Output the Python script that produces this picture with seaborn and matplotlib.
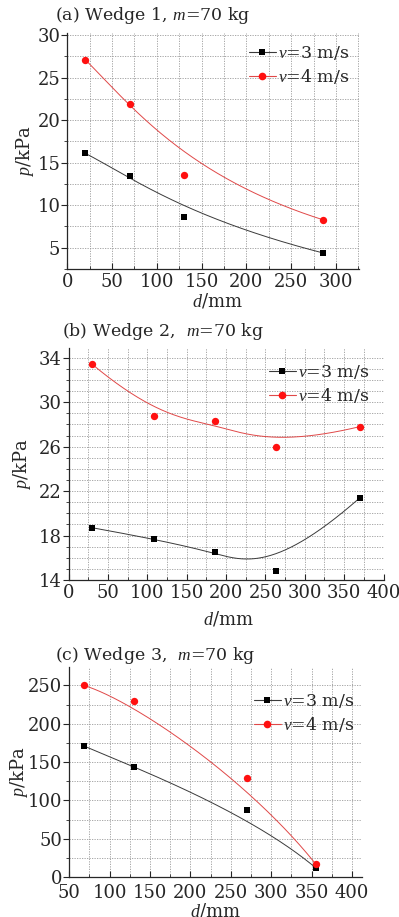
import numpy as np
import matplotlib
matplotlib.use("Agg")
import matplotlib.pyplot as plt
from matplotlib.lines import Line2D
from matplotlib.ticker import MultipleLocator, FixedLocator
import seaborn as sns

# data
d_a = [20, 70, 130, 285]
p_a_v3 = [16.1, 13.4, 8.6, 4.4]
p_a_v4 = [27.1, 21.9, 13.5, 8.3]

d_b = [30, 108, 186, 264, 370]
p_b_v3 = [18.7, 17.7, 16.5, 14.8, 21.4]
p_b_v4 = [33.4, 28.8, 28.3, 26.0, 27.8]

d_c = [68, 130, 270, 355]
p_c_v3 = [171, 143, 87, 12]
p_c_v4 = [250, 230, 129, 17]

yticks_a = [5, 10, 15, 20, 25, 30]
yticks_b = [14, 18, 22, 26, 30, 34]
yticks_c = [0, 50, 100, 150, 200, 250]

titles = ["(a) Wedge 1, $m$=70 kg", "(b) Wedge 2,  $m$=70 kg", "(c) Wedge 3,  $m$=70 kg"]
labels = ["$v$=3 m/s", "$v$=4 m/s"]

sns.set_style("ticks")
plt.rcParams["font.family"] = ["DejaVu Serif"]
plt.rcParams["mathtext.fontset"] = "custom"
plt.rcParams["mathtext.rm"] = "DejaVu Serif"
plt.rcParams["mathtext.it"] = "Liberation Serif:italic"

W, H = 399, 917
fig = plt.figure(figsize=(W / 100, H / 100), dpi=100)


def px_axes(l, t, r, b):
    return fig.add_axes([l / W, 1 - b / H, (r - l) / W, (b - t) / H])


def bspline(x, y, n=300):
    # clamped B-spline with the data points as control points (like Origin's B-spline connect)
    P = np.column_stack([x, y]).astype(float)
    m = len(P)
    k = min(3, m - 1)
    inner = np.linspace(0, 1, m - k + 1)[1:-1]
    knots = np.concatenate([np.zeros(k + 1), inner, np.ones(k + 1)])
    u = np.linspace(0, 1, n)
    u[-1] = 1 - 1e-12
    N = np.zeros((n, len(knots) - 1))
    for i in range(len(knots) - 1):
        N[:, i] = (u >= knots[i]) & (u < knots[i + 1])
    for d in range(1, k + 1):
        Nn = np.zeros((n, len(knots) - 1 - d))
        for i in range(len(knots) - 1 - d):
            a = knots[i + d] - knots[i]
            b = knots[i + d + 1] - knots[i + 1]
            t1 = (u - knots[i]) / a * N[:, i] if a > 0 else 0
            t2 = (knots[i + d + 1] - u) / b * N[:, i + 1] if b > 0 else 0
            Nn[:, i] = t1 + t2
        N = Nn
    C = N @ P
    return C[:, 0], C[:, 1]


fs = 12.5
tfs = 13
black_l, red_l = "#3a3a3a", "#e04848"
black_m, red_m = "black", "#ff1010"


def panel(ax, x, y3, y4, xlim, ylim, xmaj, xmin, yticks, ymin, title, tpos, legpos):
    for yv, lc, mc, mk, s in [(y3, black_l, black_m, "s", 20), (y4, red_l, red_m, "o", 28)]:
        fx, fy = bspline(x, yv)
        sns.lineplot(x=fx, y=fy, ax=ax, color=lc, lw=0.7, sort=False, estimator=None)
        sns.scatterplot(x=x, y=yv, ax=ax, color=mc, marker=mk, s=s, linewidth=0, zorder=5)
    ax.set_xlim(*xlim)
    ax.set_ylim(*ylim)
    ax.xaxis.set_major_locator(MultipleLocator(xmaj))
    ax.xaxis.set_minor_locator(MultipleLocator(xmin))
    ax.yaxis.set_major_locator(FixedLocator(yticks))
    ax.yaxis.set_minor_locator(MultipleLocator(ymin))
    ax.grid(which="both", color="#9a9a9a", lw=0.6, ls=(0, (1.5, 1.5)))
    for s in ["top", "right"]:
        ax.spines[s].set_visible(False)
    for s in ["left", "bottom"]:
        ax.spines[s].set_linewidth(0.9)
    ax.tick_params(axis="x", which="both", direction="in", labelsize=tfs, pad=3)
    ax.tick_params(axis="y", which="both", direction="out", labelsize=tfs, pad=1)
    ax.tick_params(which="major", length=4, width=0.8)
    ax.tick_params(which="minor", length=2.5, width=0.6)
    ax.set_xlabel("$d$/mm", fontsize=tfs)
    ax.set_ylabel("$p$/kPa", fontsize=tfs)
    fig.text(tpos[0] / W, 1 - tpos[1] / H, title, fontsize=fs, va="center", ha="left")
    handles = [
        Line2D([], [], color=black_l, lw=0.8, marker="s", markersize=4.5, markerfacecolor=black_m, markeredgewidth=0),
        Line2D([], [], color=red_l, lw=0.8, marker="o", markersize=5.5, markerfacecolor=red_m, markeredgewidth=0),
    ]
    ax.legend(handles, labels, loc="upper left", bbox_to_anchor=legpos, frameon=False,
              fontsize=fs, handlelength=1.55, handletextpad=0.12, labelspacing=0.3,
              borderaxespad=0, borderpad=0)


# panel (a)
ax1 = px_axes(67.3, 33.3, 359.3, 269)
panel(ax1, d_a, p_a_v3, p_a_v4, (0, 326), (2.5, 30.2), 50, 25, yticks_a, 2.5,
      titles[0], (55, 15), ((249 - 67.3) / (359.3 - 67.3), (269 - 44) / (269 - 33.3)))
ax1.xaxis.set_label_coords((217 - 67.3) / 292, -(292 - 269) / (269 - 33.3))
ax1.yaxis.set_label_coords(-(67.3 - 36) / 292, 0.5)

# panel (b)
ax2 = px_axes(68.7, 347.7, 383.5, 580)
panel(ax2, d_b, p_b_v3, p_b_v4, (0, 400), (14, 34.9), 50, 25, yticks_b, 1,
      titles[1], (62, 332), ((269 - 68.7) / (383.5 - 68.7), (580 - 363) / (580 - 347.7)))
ax2.xaxis.set_label_coords((228 - 68.7) / (383.5 - 68.7), -(609 - 580) / (580 - 347.7))
ax2.yaxis.set_label_coords(-(68.7 - 33) / (383.5 - 68.7), 0.5)

# panel (c)
ax3 = px_axes(69.3, 667, 361.7, 877)
panel(ax3, d_c, p_c_v3, p_c_v4, (50, 412), (0, 274), 50, 25, yticks_c, 25,
      titles[2], (55, 655), ((254 - 69.3) / (361.7 - 69.3), (877 - 692) / (877 - 667)))
ax3.tick_params(axis="x", which="both", pad=5)
ax3.xaxis.set_label_coords((215 - 69.3) / (361.7 - 69.3), -(902 - 877) / (877 - 667))
ax3.yaxis.set_label_coords(-(69.3 - 30) / (361.7 - 69.3), 0.5)

fig.savefig("out.png", dpi=100)
